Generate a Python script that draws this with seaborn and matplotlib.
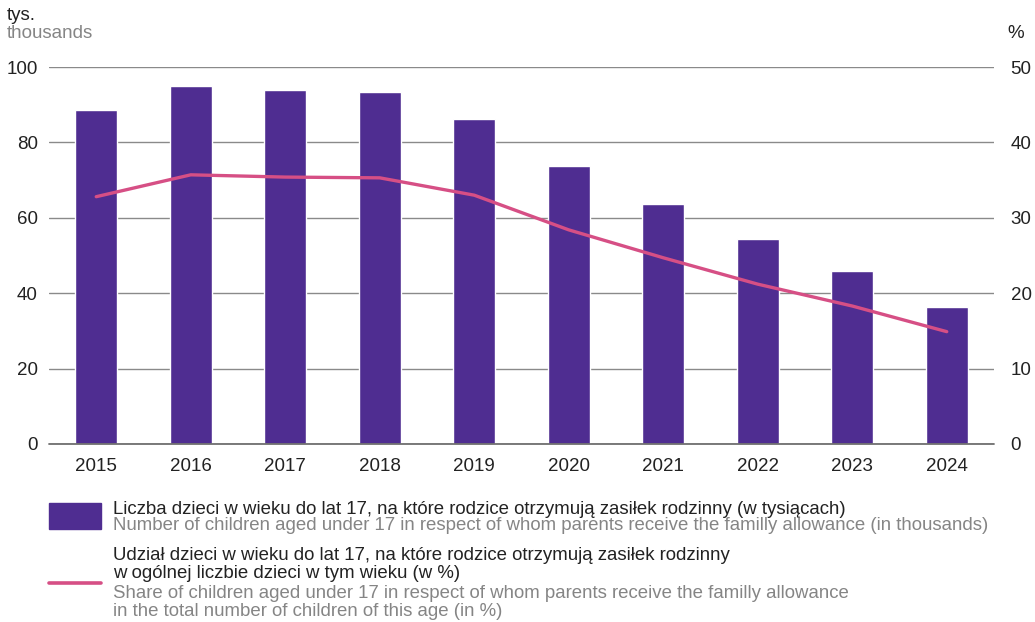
import pandas as pd
import numpy as np
import matplotlib
matplotlib.use("Agg")
import matplotlib.pyplot as plt
import seaborn as sns
from matplotlib.patches import Rectangle
from matplotlib.lines import Line2D

lata = ['2015', '2016', '2017', '2018', '2019', '2020', '2021', '2022', '2023', '2024']
liczba_tys = [88.5, 94.9, 93.8, 93.3, 86.1, 73.7, 63.6, 54.3, 45.8, 36.3]
udzial_proc = [32.8, 35.7, 35.4, 35.3, 33.0, 28.4, 24.7, 21.2, 18.3, 14.9]

fioletowy = '#4F2D91'
rozowy = '#D64F85'
szary = '#858585'
czarny = '#222222'

df = pd.DataFrame({'rok': lata, 'liczba': liczba_tys, 'udzial': udzial_proc})

sns.set_style('white')
plt.rcParams['font.family'] = ['Liberation Sans', 'DejaVu Sans']

W, H = 1035, 622
fig = plt.figure(figsize=(W / 100, H / 100), dpi=100)
ax = fig.add_axes([49 / W, 1 - 444 / H, (994 - 49) / W, (444 - 67) / H])

sns.barplot(data=df, x='rok', y='liczba', color=fioletowy, saturation=1,
            width=0.44, ax=ax, zorder=3)
ax.set_ylim(0, 100)
ax.set_xlim(-0.5, 9.5)
ax.set_yticks(range(0, 101, 20))
ax.yaxis.grid(True, color='#8a8a8a', linewidth=1, zorder=0)
ax.axhline(0, color='#6f6f6f', linewidth=1.3, zorder=5, clip_on=False)
ax.set_axisbelow(True)
ax.set_xlabel('')
ax.set_ylabel('')
for s in ax.spines.values():
    s.set_visible(False)
ax.tick_params(axis='both', length=0, labelsize=13.5, colors=czarny, pad=8)
ax.tick_params(axis='x', pad=10)

ax2 = ax.twinx()
sns.lineplot(data=df, x='rok', y='udzial', color=rozowy, linewidth=2.4,
             ax=ax2, zorder=4)
ax2.set_ylim(0, 50)
ax2.set_xlim(-0.5, 9.5)
ax2.set_yticks(range(0, 51, 10))
ax2.set_ylabel('')
ax2.set_xlabel('')
for s in ax2.spines.values():
    s.set_visible(False)
ax2.tick_params(axis='y', length=0, labelsize=13.5, colors=czarny, pad=12)

# opisy osi
fig.text(7 / W, 1 - 16 / H, 'tys.', fontsize=13.5, color=czarny, va='center')
fig.text(7 / W, 1 - 33 / H, 'thousands', fontsize=13.5, color=szary, va='center')
fig.text(1016 / W, 1 - 33 / H, '%', fontsize=13.5, color=czarny, va='center', ha='center')

# legenda
fig.patches.append(Rectangle((49 / W, 1 - 529 / H), 52 / W, 26 / H,
                             transform=fig.transFigure, color=fioletowy))
fig.lines.append(Line2D([49 / W, 101 / W], [1 - 583 / H, 1 - 583 / H],
                        transform=fig.transFigure, color=rozowy, linewidth=2.6))
tx = 113 / W
fs = 13.4
fig.text(tx, 1 - 509 / H, 'Liczba dzieci w wieku do lat 17, na które rodzice otrzymują zasiłek rodzinny (w tysiącach)',
         fontsize=fs, color=czarny, va='center')
fig.text(tx, 1 - 526 / H, 'Number of children aged under 17 in respect of whom parents receive the familly allowance (in thousands)',
         fontsize=fs, color=szary, va='center')
fig.text(tx, 1 - 556 / H, 'Udział dzieci w wieku do lat 17, na które rodzice otrzymują zasiłek rodzinny',
         fontsize=fs, color=czarny, va='center')
fig.text(tx, 1 - 574 / H, 'w ogólnej liczbie dzieci w tym wieku (w %)',
         fontsize=fs, color=czarny, va='center')
fig.text(tx, 1 - 593 / H, 'Share of children aged under 17 in respect of whom parents receive the familly allowance',
         fontsize=fs, color=szary, va='center')
fig.text(tx, 1 - 611 / H, 'in the total number of children of this age (in %)',
         fontsize=fs, color=szary, va='center')

fig.savefig('out.png', dpi=100)
